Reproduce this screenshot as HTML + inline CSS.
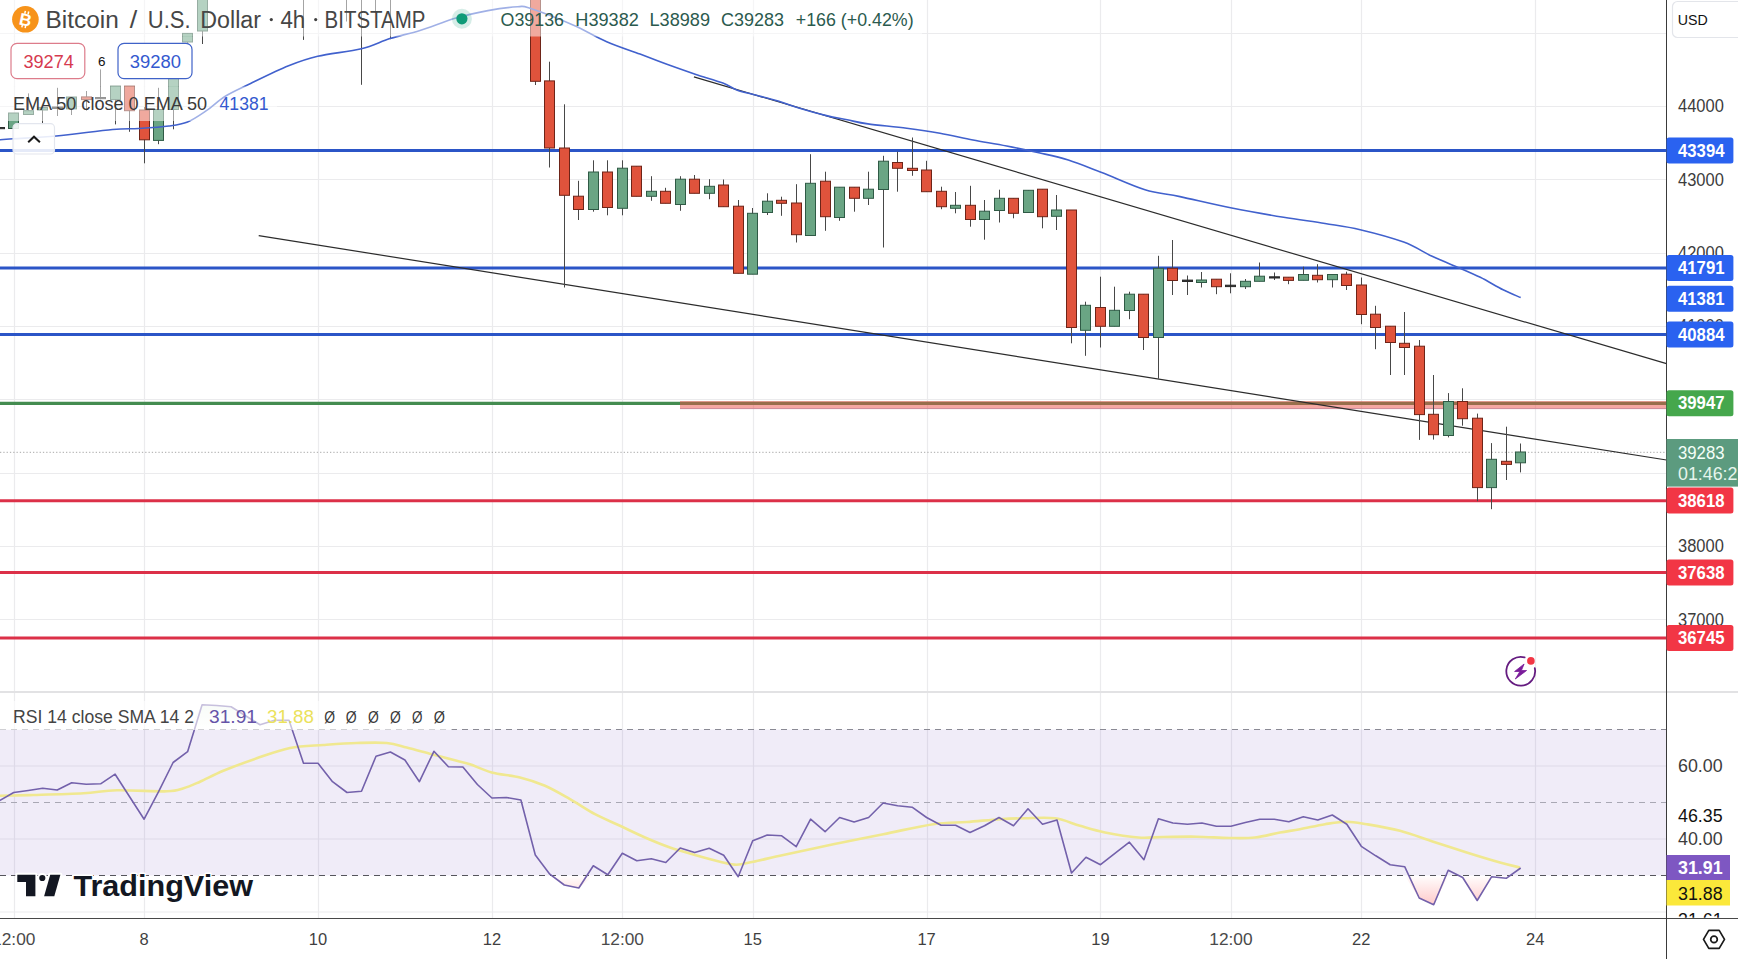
<!DOCTYPE html>
<html><head><meta charset="utf-8"><title>BTCUSD</title>
<style>html,body{margin:0;padding:0;background:#fff;}body{width:1738px;height:959px;overflow:hidden;position:relative;font-family:"Liberation Sans",sans-serif;}</style></head>
<body>
<svg width="1738" height="959" viewBox="0 0 1738 959" style="position:absolute;left:0;top:0">
<defs><clipPath id="cm"><rect x="0" y="0" width="1666.5" height="692"/></clipPath><clipPath id="cr"><rect x="0" y="692" width="1666.5" height="226.5"/></clipPath>
<linearGradient id="os" x1="0" y1="875" x2="0" y2="912" gradientUnits="userSpaceOnUse"><stop offset="0" stop-color="#ff6b6b" stop-opacity="0"/><stop offset="1" stop-color="#ff6b6b" stop-opacity="0.45"/></linearGradient>
<linearGradient id="ob" x1="0" y1="729" x2="0" y2="700" gradientUnits="userSpaceOnUse"><stop offset="0" stop-color="#4caf50" stop-opacity="0"/><stop offset="1" stop-color="#4caf50" stop-opacity="0.12"/></linearGradient>
</defs>
<rect width="1738" height="959" fill="#fff"/>
<line x1="14.5" y1="0" x2="14.5" y2="918.5" stroke="#ebebed" stroke-width="1.2"/>
<line x1="144.5" y1="0" x2="144.5" y2="918.5" stroke="#ebebed" stroke-width="1.2"/>
<line x1="318.5" y1="0" x2="318.5" y2="918.5" stroke="#ebebed" stroke-width="1.2"/>
<line x1="492.5" y1="0" x2="492.5" y2="918.5" stroke="#ebebed" stroke-width="1.2"/>
<line x1="622.5" y1="0" x2="622.5" y2="918.5" stroke="#ebebed" stroke-width="1.2"/>
<line x1="753.5" y1="0" x2="753.5" y2="918.5" stroke="#ebebed" stroke-width="1.2"/>
<line x1="927.5" y1="0" x2="927.5" y2="918.5" stroke="#ebebed" stroke-width="1.2"/>
<line x1="1100.5" y1="0" x2="1100.5" y2="918.5" stroke="#ebebed" stroke-width="1.2"/>
<line x1="1231.5" y1="0" x2="1231.5" y2="918.5" stroke="#ebebed" stroke-width="1.2"/>
<line x1="1361.5" y1="0" x2="1361.5" y2="918.5" stroke="#ebebed" stroke-width="1.2"/>
<line x1="1535.5" y1="0" x2="1535.5" y2="918.5" stroke="#ebebed" stroke-width="1.2"/>
<line x1="0" y1="619.5" x2="1666.5" y2="619.5" stroke="#ebebed" stroke-width="1.2"/>
<line x1="0" y1="546.5" x2="1666.5" y2="546.5" stroke="#ebebed" stroke-width="1.2"/>
<line x1="0" y1="473.5" x2="1666.5" y2="473.5" stroke="#ebebed" stroke-width="1.2"/>
<line x1="0" y1="399.5" x2="1666.5" y2="399.5" stroke="#ebebed" stroke-width="1.2"/>
<line x1="0" y1="326.5" x2="1666.5" y2="326.5" stroke="#ebebed" stroke-width="1.2"/>
<line x1="0" y1="253.5" x2="1666.5" y2="253.5" stroke="#ebebed" stroke-width="1.2"/>
<line x1="0" y1="179.5" x2="1666.5" y2="179.5" stroke="#ebebed" stroke-width="1.2"/>
<line x1="0" y1="106.5" x2="1666.5" y2="106.5" stroke="#ebebed" stroke-width="1.2"/>
<line x1="0" y1="33.5" x2="1666.5" y2="33.5" stroke="#ebebed" stroke-width="1.2"/>
<line x1="0" y1="766" x2="1666.5" y2="766" stroke="#ebebed" stroke-width="1.2"/>
<line x1="0" y1="839" x2="1666.5" y2="839" stroke="#ebebed" stroke-width="1.2"/>
<line x1="0" y1="912" x2="1666.5" y2="912" stroke="#ebebed" stroke-width="1.2"/>
<rect x="0" y="729.5" width="1666.5" height="146" fill="#7e57c2" fill-opacity="0.115"/>
<g clip-path="url(#cm)">
<line x1="0" y1="150.4" x2="1666.5" y2="150.4" stroke="#2b55c7" stroke-width="3"/>
<line x1="0" y1="268.0" x2="1666.5" y2="268.0" stroke="#2b55c7" stroke-width="3"/>
<line x1="0" y1="334.5" x2="1666.5" y2="334.5" stroke="#2b55c7" stroke-width="3"/>
<line x1="0" y1="500.7" x2="1666.5" y2="500.7" stroke="#dc3048" stroke-width="3"/>
<line x1="0" y1="572.5" x2="1666.5" y2="572.5" stroke="#dc3048" stroke-width="3"/>
<line x1="0" y1="638.0" x2="1666.5" y2="638.0" stroke="#dc3048" stroke-width="3"/>
<line x1="0" y1="403.4" x2="1666.5" y2="403.4" stroke="#448c50" stroke-width="3.2"/>
<rect x="680" y="401" width="986.5" height="8" fill="#eb5046" fill-opacity="0.5"/>
<line x1="680" y1="408.6" x2="1666.5" y2="408.6" stroke="#c98a9a" stroke-width="0.9"/>
<line x1="0" y1="452.3" x2="1666.5" y2="452.3" stroke="#a8a8a8" stroke-width="1" stroke-dasharray="1.3 2"/>
<line x1="693.9" y1="76.9" x2="1666.5" y2="363.7" stroke="#2c2c2c" stroke-width="1.2"/>
<line x1="258.7" y1="235.6" x2="1666.5" y2="460" stroke="#2c2c2c" stroke-width="1.2"/>
<line x1="-0.5" y1="127.5" x2="-0.5" y2="128.5" stroke="#484848" stroke-width="1"/>
<rect x="-5.5" y="127.5" width="10" height="1.2" fill="#2b2b2b" stroke="#2b2b2b" stroke-width="1"/>
<line x1="13.5" y1="113.0" x2="13.5" y2="128.5" stroke="#484848" stroke-width="1"/>
<rect x="8.5" y="113.0" width="10" height="15.5" fill="#6aa584" stroke="#2f5a45" stroke-width="1"/>
<line x1="28.5" y1="93.4" x2="28.5" y2="114.5" stroke="#484848" stroke-width="1"/>
<rect x="23.5" y="110.7" width="10" height="3.8" fill="#6aa584" stroke="#2f5a45" stroke-width="1"/>
<line x1="42.5" y1="107.6" x2="42.5" y2="124.4" stroke="#484848" stroke-width="1"/>
<rect x="37.5" y="107.6" width="10" height="2.4" fill="#6aa584" stroke="#2f5a45" stroke-width="1"/>
<line x1="57.5" y1="87.8" x2="57.5" y2="116.0" stroke="#484848" stroke-width="1"/>
<rect x="52.5" y="107.0" width="10" height="1.5" fill="#2b2b2b" stroke="#2b2b2b" stroke-width="1"/>
<line x1="71.5" y1="97.0" x2="71.5" y2="115.0" stroke="#484848" stroke-width="1"/>
<rect x="66.5" y="97.0" width="10" height="11.9" fill="#6aa584" stroke="#2f5a45" stroke-width="1"/>
<line x1="86.5" y1="91.0" x2="86.5" y2="110.7" stroke="#484848" stroke-width="1"/>
<rect x="81.5" y="96.9" width="10" height="2.7" fill="#e0533c" stroke="#6e2418" stroke-width="1"/>
<line x1="100.5" y1="69.4" x2="100.5" y2="99.4" stroke="#484848" stroke-width="1"/>
<rect x="95.5" y="97.5" width="10" height="1.2" fill="#2b2b2b" stroke="#2b2b2b" stroke-width="1"/>
<line x1="115.5" y1="86.0" x2="115.5" y2="124.4" stroke="#484848" stroke-width="1"/>
<rect x="110.5" y="86.0" width="10" height="13.6" fill="#6aa584" stroke="#2f5a45" stroke-width="1"/>
<line x1="129.5" y1="86.0" x2="129.5" y2="131.8" stroke="#484848" stroke-width="1"/>
<rect x="124.5" y="86.0" width="10" height="24.7" fill="#e0533c" stroke="#6e2418" stroke-width="1"/>
<line x1="144.5" y1="107.0" x2="144.5" y2="163.3" stroke="#484848" stroke-width="1"/>
<rect x="139.5" y="110.0" width="10" height="29.8" fill="#e0533c" stroke="#6e2418" stroke-width="1"/>
<line x1="158.5" y1="87.8" x2="158.5" y2="144.2" stroke="#484848" stroke-width="1"/>
<rect x="153.5" y="109.5" width="10" height="30.9" fill="#6aa584" stroke="#2f5a45" stroke-width="1"/>
<line x1="173.5" y1="44.0" x2="173.5" y2="129.3" stroke="#484848" stroke-width="1"/>
<rect x="168.5" y="44.0" width="10" height="65.5" fill="#6aa584" stroke="#2f5a45" stroke-width="1"/>
<line x1="187.5" y1="33.4" x2="187.5" y2="50.0" stroke="#484848" stroke-width="1"/>
<rect x="182.5" y="33.4" width="10" height="8.6" fill="#6aa584" stroke="#2f5a45" stroke-width="1"/>
<line x1="202.5" y1="-5.0" x2="202.5" y2="44.0" stroke="#484848" stroke-width="1"/>
<rect x="197.5" y="-5.0" width="10" height="36.0" fill="#6aa584" stroke="#2f5a45" stroke-width="1"/>
<line x1="303.5" y1="-5.0" x2="303.5" y2="39.9" stroke="#484848" stroke-width="1"/>
<rect x="298.5" y="-5.0" width="10" height="1.2" fill="#6aa584" stroke="#2f5a45" stroke-width="1"/>
<line x1="346.5" y1="-5.0" x2="346.5" y2="21.5" stroke="#484848" stroke-width="1"/>
<rect x="341.5" y="-5.0" width="10" height="1.2" fill="#6aa584" stroke="#2f5a45" stroke-width="1"/>
<line x1="361.5" y1="-5.0" x2="361.5" y2="84.8" stroke="#484848" stroke-width="1"/>
<rect x="356.5" y="-5.0" width="10" height="1.2" fill="#6aa584" stroke="#2f5a45" stroke-width="1"/>
<line x1="375.5" y1="-5.0" x2="375.5" y2="11.0" stroke="#484848" stroke-width="1"/>
<rect x="370.5" y="-5.0" width="10" height="1.2" fill="#6aa584" stroke="#2f5a45" stroke-width="1"/>
<line x1="390.5" y1="-5.0" x2="390.5" y2="39.2" stroke="#484848" stroke-width="1"/>
<rect x="385.5" y="-5.0" width="10" height="1.2" fill="#6aa584" stroke="#2f5a45" stroke-width="1"/>
<line x1="535.5" y1="-5.0" x2="535.5" y2="85.0" stroke="#484848" stroke-width="1"/>
<rect x="530.5" y="-5.0" width="10" height="86.3" fill="#e0533c" stroke="#6e2418" stroke-width="1"/>
<line x1="549.5" y1="61.7" x2="549.5" y2="167.5" stroke="#484848" stroke-width="1"/>
<rect x="544.5" y="80.9" width="10" height="67.1" fill="#e0533c" stroke="#6e2418" stroke-width="1"/>
<line x1="564.5" y1="104.3" x2="564.5" y2="287.5" stroke="#484848" stroke-width="1"/>
<rect x="559.5" y="148.0" width="10" height="47.3" fill="#e0533c" stroke="#6e2418" stroke-width="1"/>
<line x1="578.5" y1="180.8" x2="578.5" y2="220.0" stroke="#484848" stroke-width="1"/>
<rect x="573.5" y="196.2" width="10" height="13.3" fill="#e0533c" stroke="#6e2418" stroke-width="1"/>
<line x1="593.5" y1="160.3" x2="593.5" y2="211.7" stroke="#484848" stroke-width="1"/>
<rect x="588.5" y="172.0" width="10" height="37.5" fill="#6aa584" stroke="#2f5a45" stroke-width="1"/>
<line x1="607.5" y1="160.3" x2="607.5" y2="215.3" stroke="#484848" stroke-width="1"/>
<rect x="602.5" y="172.0" width="10" height="35.5" fill="#e0533c" stroke="#6e2418" stroke-width="1"/>
<line x1="622.5" y1="160.3" x2="622.5" y2="215.3" stroke="#484848" stroke-width="1"/>
<rect x="617.5" y="168.2" width="10" height="40.1" fill="#6aa584" stroke="#2f5a45" stroke-width="1"/>
<line x1="636.5" y1="166.2" x2="636.5" y2="196.3" stroke="#484848" stroke-width="1"/>
<rect x="631.5" y="166.2" width="10" height="30.1" fill="#e0533c" stroke="#6e2418" stroke-width="1"/>
<line x1="651.5" y1="176.2" x2="651.5" y2="200.8" stroke="#484848" stroke-width="1"/>
<rect x="646.5" y="191.3" width="10" height="5.0" fill="#6aa584" stroke="#2f5a45" stroke-width="1"/>
<line x1="665.5" y1="187.8" x2="665.5" y2="203.3" stroke="#484848" stroke-width="1"/>
<rect x="660.5" y="191.3" width="10" height="12.0" fill="#e0533c" stroke="#6e2418" stroke-width="1"/>
<line x1="680.5" y1="176.2" x2="680.5" y2="210.8" stroke="#484848" stroke-width="1"/>
<rect x="675.5" y="179.2" width="10" height="25.3" fill="#6aa584" stroke="#2f5a45" stroke-width="1"/>
<line x1="694.5" y1="175.0" x2="694.5" y2="193.3" stroke="#484848" stroke-width="1"/>
<rect x="689.5" y="179.2" width="10" height="14.1" fill="#e0533c" stroke="#6e2418" stroke-width="1"/>
<line x1="709.5" y1="179.2" x2="709.5" y2="199.2" stroke="#484848" stroke-width="1"/>
<rect x="704.5" y="186.3" width="10" height="7.0" fill="#6aa584" stroke="#2f5a45" stroke-width="1"/>
<line x1="723.5" y1="179.5" x2="723.5" y2="206.7" stroke="#484848" stroke-width="1"/>
<rect x="718.5" y="185.0" width="10" height="21.7" fill="#e0533c" stroke="#6e2418" stroke-width="1"/>
<line x1="738.5" y1="200.0" x2="738.5" y2="273.3" stroke="#484848" stroke-width="1"/>
<rect x="733.5" y="206.2" width="10" height="67.1" fill="#e0533c" stroke="#6e2418" stroke-width="1"/>
<line x1="752.5" y1="208.0" x2="752.5" y2="274.2" stroke="#484848" stroke-width="1"/>
<rect x="747.5" y="213.3" width="10" height="60.9" fill="#6aa584" stroke="#2f5a45" stroke-width="1"/>
<line x1="767.5" y1="193.3" x2="767.5" y2="215.0" stroke="#484848" stroke-width="1"/>
<rect x="762.5" y="201.2" width="10" height="11.3" fill="#6aa584" stroke="#2f5a45" stroke-width="1"/>
<line x1="781.5" y1="196.7" x2="781.5" y2="215.8" stroke="#484848" stroke-width="1"/>
<rect x="776.5" y="200.3" width="10" height="3.0" fill="#e0533c" stroke="#6e2418" stroke-width="1"/>
<line x1="796.5" y1="184.2" x2="796.5" y2="242.5" stroke="#484848" stroke-width="1"/>
<rect x="791.5" y="203.0" width="10" height="31.7" fill="#e0533c" stroke="#6e2418" stroke-width="1"/>
<line x1="810.5" y1="154.2" x2="810.5" y2="235.5" stroke="#484848" stroke-width="1"/>
<rect x="805.5" y="183.3" width="10" height="52.2" fill="#6aa584" stroke="#2f5a45" stroke-width="1"/>
<line x1="825.5" y1="171.7" x2="825.5" y2="230.8" stroke="#484848" stroke-width="1"/>
<rect x="820.5" y="181.2" width="10" height="35.5" fill="#e0533c" stroke="#6e2418" stroke-width="1"/>
<line x1="839.5" y1="187.2" x2="839.5" y2="220.8" stroke="#484848" stroke-width="1"/>
<rect x="834.5" y="187.2" width="10" height="30.3" fill="#6aa584" stroke="#2f5a45" stroke-width="1"/>
<line x1="854.5" y1="187.2" x2="854.5" y2="211.7" stroke="#484848" stroke-width="1"/>
<rect x="849.5" y="187.2" width="10" height="11.1" fill="#e0533c" stroke="#6e2418" stroke-width="1"/>
<line x1="868.5" y1="171.7" x2="868.5" y2="205.0" stroke="#484848" stroke-width="1"/>
<rect x="863.5" y="189.2" width="10" height="9.1" fill="#6aa584" stroke="#2f5a45" stroke-width="1"/>
<line x1="883.5" y1="155.8" x2="883.5" y2="247.5" stroke="#484848" stroke-width="1"/>
<rect x="878.5" y="161.2" width="10" height="28.3" fill="#6aa584" stroke="#2f5a45" stroke-width="1"/>
<line x1="897.5" y1="151.7" x2="897.5" y2="191.7" stroke="#484848" stroke-width="1"/>
<rect x="892.5" y="162.5" width="10" height="5.8" fill="#e0533c" stroke="#6e2418" stroke-width="1"/>
<line x1="912.5" y1="137.5" x2="912.5" y2="175.8" stroke="#484848" stroke-width="1"/>
<rect x="907.5" y="168.3" width="10" height="2.2" fill="#e0533c" stroke="#6e2418" stroke-width="1"/>
<line x1="926.5" y1="160.8" x2="926.5" y2="191.7" stroke="#484848" stroke-width="1"/>
<rect x="921.5" y="170.0" width="10" height="21.7" fill="#e0533c" stroke="#6e2418" stroke-width="1"/>
<line x1="941.5" y1="186.7" x2="941.5" y2="209.2" stroke="#484848" stroke-width="1"/>
<rect x="936.5" y="191.3" width="10" height="15.4" fill="#e0533c" stroke="#6e2418" stroke-width="1"/>
<line x1="955.5" y1="192.0" x2="955.5" y2="213.3" stroke="#484848" stroke-width="1"/>
<rect x="950.5" y="205.3" width="10" height="3.0" fill="#6aa584" stroke="#2f5a45" stroke-width="1"/>
<line x1="970.5" y1="185.8" x2="970.5" y2="226.7" stroke="#484848" stroke-width="1"/>
<rect x="965.5" y="205.3" width="10" height="14.2" fill="#e0533c" stroke="#6e2418" stroke-width="1"/>
<line x1="984.5" y1="200.0" x2="984.5" y2="239.7" stroke="#484848" stroke-width="1"/>
<rect x="979.5" y="211.2" width="10" height="8.3" fill="#6aa584" stroke="#2f5a45" stroke-width="1"/>
<line x1="999.5" y1="189.7" x2="999.5" y2="222.5" stroke="#484848" stroke-width="1"/>
<rect x="994.5" y="198.3" width="10" height="12.2" fill="#6aa584" stroke="#2f5a45" stroke-width="1"/>
<line x1="1013.5" y1="198.3" x2="1013.5" y2="218.3" stroke="#484848" stroke-width="1"/>
<rect x="1008.5" y="198.3" width="10" height="15.0" fill="#e0533c" stroke="#6e2418" stroke-width="1"/>
<line x1="1028.5" y1="190.3" x2="1028.5" y2="212.5" stroke="#484848" stroke-width="1"/>
<rect x="1023.5" y="190.3" width="10" height="22.2" fill="#6aa584" stroke="#2f5a45" stroke-width="1"/>
<line x1="1042.5" y1="189.2" x2="1042.5" y2="228.3" stroke="#484848" stroke-width="1"/>
<rect x="1037.5" y="189.2" width="10" height="27.5" fill="#e0533c" stroke="#6e2418" stroke-width="1"/>
<line x1="1056.5" y1="195.0" x2="1056.5" y2="230.0" stroke="#484848" stroke-width="1"/>
<rect x="1051.5" y="210.0" width="10" height="6.3" fill="#6aa584" stroke="#2f5a45" stroke-width="1"/>
<line x1="1071.5" y1="210.0" x2="1071.5" y2="343.3" stroke="#484848" stroke-width="1"/>
<rect x="1066.5" y="210.0" width="10" height="117.5" fill="#e0533c" stroke="#6e2418" stroke-width="1"/>
<line x1="1085.5" y1="301.7" x2="1085.5" y2="355.8" stroke="#484848" stroke-width="1"/>
<rect x="1080.5" y="305.3" width="10" height="25.0" fill="#6aa584" stroke="#2f5a45" stroke-width="1"/>
<line x1="1100.5" y1="276.7" x2="1100.5" y2="347.5" stroke="#484848" stroke-width="1"/>
<rect x="1095.5" y="307.5" width="10" height="18.8" fill="#e0533c" stroke="#6e2418" stroke-width="1"/>
<line x1="1114.5" y1="286.7" x2="1114.5" y2="326.3" stroke="#484848" stroke-width="1"/>
<rect x="1109.5" y="310.3" width="10" height="16.0" fill="#6aa584" stroke="#2f5a45" stroke-width="1"/>
<line x1="1129.5" y1="291.7" x2="1129.5" y2="319.2" stroke="#484848" stroke-width="1"/>
<rect x="1124.5" y="294.2" width="10" height="16.3" fill="#6aa584" stroke="#2f5a45" stroke-width="1"/>
<line x1="1143.5" y1="294.2" x2="1143.5" y2="350.0" stroke="#484848" stroke-width="1"/>
<rect x="1138.5" y="294.2" width="10" height="43.3" fill="#e0533c" stroke="#6e2418" stroke-width="1"/>
<line x1="1158.5" y1="255.8" x2="1158.5" y2="378.7" stroke="#484848" stroke-width="1"/>
<rect x="1153.5" y="268.3" width="10" height="69.2" fill="#6aa584" stroke="#2f5a45" stroke-width="1"/>
<line x1="1172.5" y1="240.0" x2="1172.5" y2="295.0" stroke="#484848" stroke-width="1"/>
<rect x="1167.5" y="268.3" width="10" height="12.2" fill="#e0533c" stroke="#6e2418" stroke-width="1"/>
<line x1="1187.5" y1="275.5" x2="1187.5" y2="295.0" stroke="#484848" stroke-width="1"/>
<rect x="1182.5" y="280.1" width="10" height="1.4" fill="#2b2b2b" stroke="#2b2b2b" stroke-width="1"/>
<line x1="1201.5" y1="272.0" x2="1201.5" y2="287.5" stroke="#484848" stroke-width="1"/>
<rect x="1196.5" y="280.0" width="10" height="2.5" fill="#6aa584" stroke="#2f5a45" stroke-width="1"/>
<line x1="1216.5" y1="279.2" x2="1216.5" y2="294.2" stroke="#484848" stroke-width="1"/>
<rect x="1211.5" y="279.2" width="10" height="7.5" fill="#e0533c" stroke="#6e2418" stroke-width="1"/>
<line x1="1230.5" y1="273.3" x2="1230.5" y2="293.3" stroke="#484848" stroke-width="1"/>
<rect x="1225.5" y="285.2" width="10" height="1.4" fill="#2b2b2b" stroke="#2b2b2b" stroke-width="1"/>
<line x1="1245.5" y1="279.0" x2="1245.5" y2="289.0" stroke="#484848" stroke-width="1"/>
<rect x="1240.5" y="281.3" width="10" height="5.4" fill="#6aa584" stroke="#2f5a45" stroke-width="1"/>
<line x1="1259.5" y1="262.5" x2="1259.5" y2="281.3" stroke="#484848" stroke-width="1"/>
<rect x="1254.5" y="276.2" width="10" height="5.1" fill="#6aa584" stroke="#2f5a45" stroke-width="1"/>
<line x1="1274.5" y1="272.5" x2="1274.5" y2="280.0" stroke="#484848" stroke-width="1"/>
<rect x="1269.5" y="276.8" width="10" height="1.2" fill="#2b2b2b" stroke="#2b2b2b" stroke-width="1"/>
<line x1="1288.5" y1="277.2" x2="1288.5" y2="284.2" stroke="#484848" stroke-width="1"/>
<rect x="1283.5" y="277.2" width="10" height="3.2" fill="#e0533c" stroke="#6e2418" stroke-width="1"/>
<line x1="1303.5" y1="266.7" x2="1303.5" y2="280.3" stroke="#484848" stroke-width="1"/>
<rect x="1298.5" y="274.5" width="10" height="5.8" fill="#6aa584" stroke="#2f5a45" stroke-width="1"/>
<line x1="1317.5" y1="264.2" x2="1317.5" y2="282.5" stroke="#484848" stroke-width="1"/>
<rect x="1312.5" y="275.3" width="10" height="4.4" fill="#e0533c" stroke="#6e2418" stroke-width="1"/>
<line x1="1332.5" y1="274.5" x2="1332.5" y2="287.5" stroke="#484848" stroke-width="1"/>
<rect x="1327.5" y="274.5" width="10" height="5.2" fill="#6aa584" stroke="#2f5a45" stroke-width="1"/>
<line x1="1346.5" y1="271.7" x2="1346.5" y2="290.0" stroke="#484848" stroke-width="1"/>
<rect x="1341.5" y="274.2" width="10" height="11.3" fill="#e0533c" stroke="#6e2418" stroke-width="1"/>
<line x1="1361.5" y1="277.5" x2="1361.5" y2="324.2" stroke="#484848" stroke-width="1"/>
<rect x="1356.5" y="285.0" width="10" height="29.5" fill="#e0533c" stroke="#6e2418" stroke-width="1"/>
<line x1="1375.5" y1="305.8" x2="1375.5" y2="349.2" stroke="#484848" stroke-width="1"/>
<rect x="1370.5" y="314.2" width="10" height="13.3" fill="#e0533c" stroke="#6e2418" stroke-width="1"/>
<line x1="1390.5" y1="326.2" x2="1390.5" y2="375.0" stroke="#484848" stroke-width="1"/>
<rect x="1385.5" y="326.2" width="10" height="16.3" fill="#e0533c" stroke="#6e2418" stroke-width="1"/>
<line x1="1404.5" y1="312.0" x2="1404.5" y2="375.0" stroke="#484848" stroke-width="1"/>
<rect x="1399.5" y="343.3" width="10" height="4.2" fill="#e0533c" stroke="#6e2418" stroke-width="1"/>
<line x1="1419.5" y1="340.0" x2="1419.5" y2="439.9" stroke="#484848" stroke-width="1"/>
<rect x="1414.5" y="346.2" width="10" height="68.4" fill="#e0533c" stroke="#6e2418" stroke-width="1"/>
<line x1="1433.5" y1="375.0" x2="1433.5" y2="439.6" stroke="#484848" stroke-width="1"/>
<rect x="1428.5" y="414.3" width="10" height="20.4" fill="#e0533c" stroke="#6e2418" stroke-width="1"/>
<line x1="1448.5" y1="393.1" x2="1448.5" y2="437.4" stroke="#484848" stroke-width="1"/>
<rect x="1443.5" y="401.5" width="10" height="34.0" fill="#6aa584" stroke="#2f5a45" stroke-width="1"/>
<line x1="1462.5" y1="388.3" x2="1462.5" y2="425.7" stroke="#484848" stroke-width="1"/>
<rect x="1457.5" y="401.5" width="10" height="17.2" fill="#e0533c" stroke="#6e2418" stroke-width="1"/>
<line x1="1477.5" y1="413.6" x2="1477.5" y2="501.2" stroke="#484848" stroke-width="1"/>
<rect x="1472.5" y="418.2" width="10" height="69.4" fill="#e0533c" stroke="#6e2418" stroke-width="1"/>
<line x1="1491.5" y1="443.1" x2="1491.5" y2="509.2" stroke="#484848" stroke-width="1"/>
<rect x="1486.5" y="459.3" width="10" height="28.3" fill="#6aa584" stroke="#2f5a45" stroke-width="1"/>
<line x1="1506.5" y1="426.7" x2="1506.5" y2="480.0" stroke="#484848" stroke-width="1"/>
<rect x="1501.5" y="461.3" width="10" height="3.1" fill="#e0533c" stroke="#6e2418" stroke-width="1"/>
<line x1="1520.5" y1="443.5" x2="1520.5" y2="472.4" stroke="#484848" stroke-width="1"/>
<rect x="1515.5" y="452.0" width="10" height="10.8" fill="#6aa584" stroke="#2f5a45" stroke-width="1"/>
<path fill="none" stroke="#4161cd" stroke-width="1.6" stroke-linejoin="round" d="M-2.0,140.0 C0.5,139.8 3.3,139.5 13.0,138.8 C22.7,138.1 39.7,137.6 56.3,136.0 C72.9,134.4 98.8,130.8 112.6,129.5 C126.3,128.2 129.4,129.1 138.8,128.5 C148.2,127.9 160.8,127.1 168.9,126.0 C177.0,124.9 181.3,124.5 187.6,122.0 C193.8,119.5 200.1,115.0 206.4,110.7 C212.7,106.4 217.9,100.7 225.3,96.2 C232.7,91.7 240.0,88.6 250.6,83.5 C261.1,78.4 277.4,70.3 288.6,65.8 C299.8,61.3 305.6,59.1 317.7,56.3 C329.8,53.4 349.4,51.7 361.4,48.7 C373.4,45.8 380.1,41.7 389.9,38.6 C399.7,35.5 409.0,33.8 420.0,30.4 C431.0,27.0 444.7,21.3 456.0,18.0 C467.3,14.7 477.6,12.5 487.9,10.6 C498.2,8.7 510.7,7.2 517.7,6.8 C524.7,6.4 520.8,5.3 530.0,8.3 C539.2,11.3 560.2,19.4 573.0,25.0 C585.8,30.6 595.5,36.9 606.7,41.7 C617.9,46.6 629.9,50.3 640.0,54.1 C650.1,57.9 658.4,61.1 667.6,64.5 C676.8,67.8 686.0,71.1 695.2,74.2 C704.4,77.3 716.0,80.5 722.9,83.1 C729.8,85.7 731.6,88.1 736.7,90.0 C741.8,91.9 746.4,92.7 753.3,94.5 C760.2,96.3 770.5,98.8 778.1,101.1 C785.7,103.3 790.7,105.6 798.8,108.0 C806.9,110.4 818.4,113.6 826.5,115.6 C834.6,117.6 840.3,118.4 847.2,119.8 C854.1,121.2 858.0,122.5 867.9,123.9 C877.8,125.3 894.7,126.7 906.7,128.3 C918.7,129.9 929.0,131.4 940.0,133.3 C951.0,135.2 961.9,137.9 973.0,140.0 C984.1,142.1 995.5,143.8 1006.7,146.0 C1017.9,148.2 1029.7,150.7 1040.0,153.0 C1050.3,155.3 1058.0,156.8 1068.3,160.0 C1078.6,163.2 1088.9,167.6 1101.7,172.5 C1114.5,177.4 1132.0,185.7 1145.0,189.7 C1158.0,193.7 1165.5,193.5 1180.0,196.6 C1194.5,199.7 1214.5,204.6 1231.8,208.0 C1249.1,211.4 1268.1,214.7 1283.6,217.3 C1299.1,219.9 1312.2,221.4 1325.0,223.5 C1337.8,225.6 1347.1,226.6 1360.2,229.7 C1373.3,232.8 1391.6,237.6 1403.7,242.1 C1415.8,246.6 1423.4,252.3 1432.7,256.6 C1442.0,260.9 1451.7,264.6 1459.6,268.0 C1467.5,271.4 1473.0,273.7 1480.3,277.3 C1487.5,280.9 1496.4,286.4 1503.1,289.8 C1509.8,293.2 1517.8,296.3 1520.7,297.6"/>
</g>
<g clip-path="url(#cr)">
<path d="M-0.8,875.5 L-0.8,875.5 L13.7,875.5 L28.2,875.5 L42.7,875.5 L57.2,875.5 L71.7,875.5 L86.2,875.5 L100.6,875.5 L115.1,875.5 L129.6,875.5 L144.1,875.5 L158.6,875.5 L173.1,875.5 L187.6,875.5 L202.1,875.5 L216.6,875.5 L231.1,875.5 L245.5,875.5 L260.0,875.5 L274.5,875.5 L289.0,875.5 L303.5,875.5 L318.0,875.5 L332.5,875.5 L347.0,875.5 L361.5,875.5 L376.0,875.5 L390.4,875.5 L404.9,875.5 L419.4,875.5 L433.9,875.5 L448.4,875.5 L462.9,875.5 L477.4,875.5 L491.9,875.5 L506.4,875.5 L520.9,875.5 L535.3,875.5 L549.8,875.5 L564.3,885.0 L578.8,888.0 L593.3,875.5 L607.8,875.5 L622.3,875.5 L636.8,875.5 L651.3,875.5 L665.8,875.5 L680.2,875.5 L694.7,875.5 L709.2,875.5 L723.7,875.5 L738.2,876.7 L752.7,875.5 L767.2,875.5 L781.7,875.5 L796.2,875.5 L810.6,875.5 L825.1,875.5 L839.6,875.5 L854.1,875.5 L868.6,875.5 L883.1,875.5 L897.6,875.5 L912.1,875.5 L926.6,875.5 L941.1,875.5 L955.6,875.5 L970.0,875.5 L984.5,875.5 L999.0,875.5 L1013.5,875.5 L1028.0,875.5 L1042.5,875.5 L1057.0,875.5 L1071.5,875.5 L1086.0,875.5 L1100.5,875.5 L1114.9,875.5 L1129.4,875.5 L1143.9,875.5 L1158.4,875.5 L1172.9,875.5 L1187.4,875.5 L1201.9,875.5 L1216.4,875.5 L1230.9,875.5 L1245.3,875.5 L1259.8,875.5 L1274.3,875.5 L1288.8,875.5 L1303.3,875.5 L1317.8,875.5 L1332.3,875.5 L1346.8,875.5 L1361.3,875.5 L1375.8,875.5 L1390.2,875.5 L1404.7,875.5 L1419.2,898.0 L1433.7,904.7 L1448.2,875.5 L1462.7,877.5 L1477.2,900.5 L1491.7,876.7 L1506.2,878.3 L1520.7,875.5 L1520.7,875.5 Z" fill="url(#os)"/>
<path d="M-0.8,729.5 L-0.8,729.5 L13.7,729.5 L28.2,729.5 L42.7,729.5 L57.2,729.5 L71.7,729.5 L86.2,729.5 L100.6,729.5 L115.1,729.5 L129.6,729.5 L144.1,729.5 L158.6,729.5 L173.1,729.5 L187.6,729.5 L202.1,704.7 L216.6,705.5 L231.1,706.7 L245.5,715.8 L260.0,724.7 L274.5,720.3 L289.0,720.3 L303.5,729.5 L318.0,729.5 L332.5,729.5 L347.0,729.5 L361.5,729.5 L376.0,729.5 L390.4,729.5 L404.9,729.5 L419.4,729.5 L433.9,729.5 L448.4,729.5 L462.9,729.5 L477.4,729.5 L491.9,729.5 L506.4,729.5 L520.9,729.5 L535.3,729.5 L549.8,729.5 L564.3,729.5 L578.8,729.5 L593.3,729.5 L607.8,729.5 L622.3,729.5 L636.8,729.5 L651.3,729.5 L665.8,729.5 L680.2,729.5 L694.7,729.5 L709.2,729.5 L723.7,729.5 L738.2,729.5 L752.7,729.5 L767.2,729.5 L781.7,729.5 L796.2,729.5 L810.6,729.5 L825.1,729.5 L839.6,729.5 L854.1,729.5 L868.6,729.5 L883.1,729.5 L897.6,729.5 L912.1,729.5 L926.6,729.5 L941.1,729.5 L955.6,729.5 L970.0,729.5 L984.5,729.5 L999.0,729.5 L1013.5,729.5 L1028.0,729.5 L1042.5,729.5 L1057.0,729.5 L1071.5,729.5 L1086.0,729.5 L1100.5,729.5 L1114.9,729.5 L1129.4,729.5 L1143.9,729.5 L1158.4,729.5 L1172.9,729.5 L1187.4,729.5 L1201.9,729.5 L1216.4,729.5 L1230.9,729.5 L1245.3,729.5 L1259.8,729.5 L1274.3,729.5 L1288.8,729.5 L1303.3,729.5 L1317.8,729.5 L1332.3,729.5 L1346.8,729.5 L1361.3,729.5 L1375.8,729.5 L1390.2,729.5 L1404.7,729.5 L1419.2,729.5 L1433.7,729.5 L1448.2,729.5 L1462.7,729.5 L1477.2,729.5 L1491.7,729.5 L1506.2,729.5 L1520.7,729.5 L1520.7,729.5 Z" fill="url(#ob)"/>
<line x1="0" y1="729.5" x2="1666.5" y2="729.5" stroke="#8a8a94" stroke-width="1.2" stroke-dasharray="6 5"/>
<line x1="0" y1="802.5" x2="1666.5" y2="802.5" stroke="#a9a8b4" stroke-width="1.2" stroke-dasharray="6 5"/>
<line x1="0" y1="875.5" x2="1666.5" y2="875.5" stroke="#55555c" stroke-width="1.2" stroke-dasharray="6 5"/>
<path fill="none" stroke="#f0e890" stroke-width="2.6" stroke-linejoin="round" d="M-2.0,795.8 C3.9,795.7 19.1,795.4 33.4,795.0 C47.6,794.6 69.6,794.1 83.5,793.3 C97.4,792.5 103.1,790.6 117.0,790.3 C130.9,790.0 155.9,791.6 167.0,791.3 C178.1,791.0 178.1,789.9 183.6,788.3 C189.1,786.7 193.4,784.6 200.0,781.7 C206.6,778.8 213.9,774.7 223.3,770.8 C232.8,766.9 245.6,762.1 256.7,758.3 C267.8,754.5 278.9,750.2 290.0,748.0 C301.1,745.8 312.2,745.8 323.3,745.0 C334.4,744.2 346.1,743.3 356.7,743.0 C367.3,742.7 378.4,742.2 386.7,743.0 C395.0,743.8 399.2,745.6 406.7,747.5 C414.2,749.4 423.4,752.0 431.7,754.2 C440.0,756.4 450.3,759.1 456.7,760.8 C463.1,762.5 464.2,762.2 470.0,764.2 C475.8,766.2 483.4,770.3 491.7,772.5 C500.0,774.7 511.1,775.3 520.0,777.5 C528.9,779.7 536.7,782.2 545.0,785.8 C553.3,789.4 561.7,794.5 570.0,799.2 C578.3,803.9 586.7,809.8 595.0,814.2 C603.3,818.6 611.7,821.9 620.0,825.8 C628.3,829.7 636.7,833.9 645.0,837.5 C653.3,841.1 661.7,844.6 670.0,847.5 C678.3,850.4 686.7,852.6 695.0,855.0 C703.3,857.4 713.0,860.1 720.0,861.7 C727.0,863.3 731.2,864.7 736.7,864.7 C742.2,864.7 745.5,863.3 753.3,861.7 C761.1,860.1 770.0,857.9 783.3,855.0 C796.6,852.1 816.6,847.7 833.3,844.2 C850.0,840.7 866.6,837.5 883.3,834.2 C900.0,830.9 919.4,826.2 933.3,824.2 C947.2,822.2 955.6,822.8 966.7,822.0 C977.8,821.2 990.3,819.8 1000.0,819.2 C1009.7,818.6 1015.8,818.4 1025.0,818.3 C1034.2,818.1 1045.8,817.0 1055.0,818.3 C1064.2,819.5 1071.7,823.4 1080.0,825.8 C1088.3,828.2 1095.3,830.5 1105.0,832.5 C1114.7,834.5 1128.6,836.8 1138.3,837.5 C1148.0,838.2 1153.6,837.1 1163.3,837.0 C1173.0,836.9 1185.6,836.5 1196.7,836.7 C1207.8,836.9 1220.3,837.9 1230.0,838.0 C1239.7,838.1 1246.7,838.4 1255.0,837.5 C1263.3,836.6 1272.5,833.9 1280.0,832.5 C1287.5,831.1 1292.5,830.6 1300.0,829.2 C1307.5,827.8 1317.2,825.5 1325.0,824.2 C1332.8,823.0 1339.8,821.7 1346.7,821.7 C1353.7,821.7 1357.8,822.7 1366.7,824.2 C1375.6,825.7 1388.9,827.9 1400.0,830.8 C1411.1,833.7 1422.2,838.1 1433.3,841.7 C1444.4,845.3 1455.6,849.0 1466.7,852.5 C1477.8,856.0 1491.1,860.0 1500.0,862.5 C1508.9,865.0 1516.7,866.7 1520.0,867.5"/>
<polyline fill="none" stroke="#7361ab" stroke-width="1.6" stroke-linejoin="round" points="-0.8,800.8 13.7,792.5 28.2,790.5 42.7,788.3 57.2,790.0 71.7,782.8 86.2,784.2 100.6,783.8 115.1,774.2 129.6,796.7 144.1,819.2 158.6,791.7 173.1,762.5 187.6,751.7 202.1,704.7 216.6,705.5 231.1,706.7 245.5,715.8 260.0,724.7 274.5,720.3 289.0,720.3 303.5,763.3 318.0,763.3 332.5,781.7 347.0,792.5 361.5,791.3 376.0,756.3 390.4,752.0 404.9,760.0 419.4,781.7 433.9,751.3 448.4,766.7 462.9,767.0 477.4,784.5 491.9,798.0 506.4,797.5 520.9,800.0 535.3,855.0 549.8,874.2 564.3,885.0 578.8,888.0 593.3,865.8 607.8,874.7 622.3,853.3 636.8,860.8 651.3,858.7 665.8,862.5 680.2,848.0 694.7,852.5 709.2,848.3 723.7,855.3 738.2,876.7 752.7,840.8 767.2,835.0 781.7,835.8 796.2,846.7 810.6,819.2 825.1,831.7 839.6,817.5 854.1,822.0 868.6,817.5 883.1,803.0 897.6,805.8 912.1,807.2 926.6,817.5 941.1,825.3 955.6,825.3 970.0,832.5 984.5,825.8 999.0,817.5 1013.5,825.8 1028.0,808.8 1042.5,824.2 1057.0,820.0 1071.5,873.0 1086.0,857.2 1100.5,864.7 1114.9,853.3 1129.4,842.2 1143.9,859.7 1158.4,818.7 1172.9,823.0 1187.4,824.2 1201.9,823.0 1216.4,826.2 1230.9,826.3 1245.3,822.5 1259.8,819.2 1274.3,819.2 1288.8,821.7 1303.3,816.7 1317.8,820.0 1332.3,815.0 1346.8,824.2 1361.3,846.3 1375.8,855.8 1390.2,864.7 1404.7,866.7 1419.2,898.0 1433.7,904.7 1448.2,870.3 1462.7,877.5 1477.2,900.5 1491.7,876.7 1506.2,878.3 1520.7,868.0"/>
</g>
<rect x="0" y="691" width="1738" height="2" fill="#e2e2e4"/>
<line x1="0" y1="918.5" x2="1738" y2="918.5" stroke="#484848" stroke-width="1"/>
<line x1="1666.5" y1="0" x2="1666.5" y2="959" stroke="#3a3a3a" stroke-width="1"/>
<text x="1678.0" y="112.3" font-size="17.5" font-family="Liberation Sans, sans-serif" fill="#3c3c3c" font-weight="normal" textLength="45.8" lengthAdjust="spacingAndGlyphs" >44000</text>
<text x="1678.0" y="185.6" font-size="17.5" font-family="Liberation Sans, sans-serif" fill="#3c3c3c" font-weight="normal" textLength="45.8" lengthAdjust="spacingAndGlyphs" >43000</text>
<text x="1678.0" y="259.0" font-size="17.5" font-family="Liberation Sans, sans-serif" fill="#3c3c3c" font-weight="normal" textLength="45.8" lengthAdjust="spacingAndGlyphs" >42000</text>
<text x="1678.0" y="332.3" font-size="17.5" font-family="Liberation Sans, sans-serif" fill="#3c3c3c" font-weight="normal" textLength="45.8" lengthAdjust="spacingAndGlyphs" >41000</text>
<text x="1678.0" y="405.6" font-size="17.5" font-family="Liberation Sans, sans-serif" fill="#3c3c3c" font-weight="normal" textLength="45.8" lengthAdjust="spacingAndGlyphs" >40000</text>
<text x="1678.0" y="479.0" font-size="17.5" font-family="Liberation Sans, sans-serif" fill="#3c3c3c" font-weight="normal" textLength="45.8" lengthAdjust="spacingAndGlyphs" >39000</text>
<text x="1678.0" y="552.3" font-size="17.5" font-family="Liberation Sans, sans-serif" fill="#3c3c3c" font-weight="normal" textLength="45.8" lengthAdjust="spacingAndGlyphs" >38000</text>
<text x="1678.0" y="625.6" font-size="17.5" font-family="Liberation Sans, sans-serif" fill="#3c3c3c" font-weight="normal" textLength="45.8" lengthAdjust="spacingAndGlyphs" >37000</text>
<rect x="1672.5" y="1.5" width="80" height="36" rx="5" fill="#fff" stroke="#e3e5ea" stroke-width="1.2"/>
<text x="1677.7" y="25.0" font-size="15" font-family="Liberation Sans, sans-serif" fill="#111" font-weight="normal" textLength="30.0" lengthAdjust="spacingAndGlyphs" >USD</text>
<rect x="1666.5" y="137.4" width="66.9" height="26" rx="2.5" fill="#2a62f0"/>
<text x="1678.0" y="156.6" font-size="17.5" font-family="Liberation Sans, sans-serif" fill="#fff" font-weight="bold" textLength="46.5" lengthAdjust="spacingAndGlyphs" >43394</text>
<rect x="1666.5" y="255.0" width="66.9" height="26" rx="2.5" fill="#2a62f0"/>
<text x="1678.0" y="274.2" font-size="17.5" font-family="Liberation Sans, sans-serif" fill="#fff" font-weight="bold" textLength="46.5" lengthAdjust="spacingAndGlyphs" >41791</text>
<rect x="1666.5" y="285.7" width="66.9" height="26" rx="2.5" fill="#2a62f0"/>
<text x="1678.0" y="304.9" font-size="17.5" font-family="Liberation Sans, sans-serif" fill="#fff" font-weight="bold" textLength="46.5" lengthAdjust="spacingAndGlyphs" >41381</text>
<rect x="1666.5" y="321.5" width="66.9" height="26" rx="2.5" fill="#2a62f0"/>
<text x="1678.0" y="340.7" font-size="17.5" font-family="Liberation Sans, sans-serif" fill="#fff" font-weight="bold" textLength="46.5" lengthAdjust="spacingAndGlyphs" >40884</text>
<rect x="1666.5" y="390.2" width="66.9" height="26" rx="2.5" fill="#45a74c"/>
<text x="1678.0" y="409.4" font-size="17.5" font-family="Liberation Sans, sans-serif" fill="#fff" font-weight="bold" textLength="46.5" lengthAdjust="spacingAndGlyphs" >39947</text>
<rect x="1666.5" y="439" width="80" height="47.6" fill="#5c9b7f"/>
<text x="1678.0" y="459.3" font-size="17.5" font-family="Liberation Sans, sans-serif" fill="#f4fff8" font-weight="normal" textLength="46.5" lengthAdjust="spacingAndGlyphs" >39283</text>
<text x="1678.0" y="479.6" font-size="17.5" font-family="Liberation Sans, sans-serif" fill="#e6f5ec" font-weight="normal" textLength="59.5" lengthAdjust="spacingAndGlyphs" >01:46:2</text>
<rect x="1666.5" y="487.4" width="66.9" height="26" rx="2.5" fill="#f23645"/>
<text x="1678.0" y="506.6" font-size="17.5" font-family="Liberation Sans, sans-serif" fill="#fff" font-weight="bold" textLength="46.5" lengthAdjust="spacingAndGlyphs" >38618</text>
<rect x="1666.5" y="559.5" width="66.9" height="26" rx="2.5" fill="#f23645"/>
<text x="1678.0" y="578.7" font-size="17.5" font-family="Liberation Sans, sans-serif" fill="#fff" font-weight="bold" textLength="46.5" lengthAdjust="spacingAndGlyphs" >37638</text>
<rect x="1666.5" y="625.0" width="66.9" height="26" rx="2.5" fill="#f23645"/>
<text x="1678.0" y="644.2" font-size="17.5" font-family="Liberation Sans, sans-serif" fill="#fff" font-weight="bold" textLength="46.5" lengthAdjust="spacingAndGlyphs" >36745</text>
<rect x="1667.5" y="920" width="80" height="39" fill="#fff"/>
<text x="1678.0" y="772.3" font-size="17.5" font-family="Liberation Sans, sans-serif" fill="#3c3c3c" font-weight="normal" textLength="44.6" lengthAdjust="spacingAndGlyphs" >60.00</text>
<text x="1678.0" y="822.0" font-size="17.5" font-family="Liberation Sans, sans-serif" fill="#111" font-weight="normal" textLength="44.6" lengthAdjust="spacingAndGlyphs" >46.35</text>
<text x="1678.0" y="845.3" font-size="17.5" font-family="Liberation Sans, sans-serif" fill="#3c3c3c" font-weight="normal" textLength="44.6" lengthAdjust="spacingAndGlyphs" >40.00</text>
<clipPath id="cb"><rect x="1667" y="700" width="71" height="217.8"/></clipPath>
<g clip-path="url(#cb)">
<text x="1678.0" y="925.5" font-size="17.5" font-family="Liberation Sans, sans-serif" fill="#111" font-weight="normal" textLength="44.6" lengthAdjust="spacingAndGlyphs" >31.61</text>
</g>
<rect x="1666.5" y="855" width="63.5" height="25" fill="#7e57c2"/>
<text x="1678.0" y="874.4" font-size="17.5" font-family="Liberation Sans, sans-serif" fill="#fff" font-weight="bold" textLength="44.6" lengthAdjust="spacingAndGlyphs" >31.91</text>
<rect x="1666.5" y="880" width="63.5" height="25.5" fill="#fbe83a"/>
<text x="1678.0" y="899.6" font-size="17.5" font-family="Liberation Sans, sans-serif" fill="#111" font-weight="normal" textLength="44.6" lengthAdjust="spacingAndGlyphs" >31.88</text>
<text x="-7.9" y="945.3" font-size="16.5" font-family="Liberation Sans, sans-serif" fill="#4a4a4a" textLength="43.3" lengthAdjust="spacingAndGlyphs">12:00</text>
<text x="144.1" y="945.3" font-size="16.5" font-family="Liberation Sans, sans-serif" fill="#3f3f3f" text-anchor="middle">8</text>
<text x="318.0" y="945.3" font-size="16.5" font-family="Liberation Sans, sans-serif" fill="#3f3f3f" text-anchor="middle">10</text>
<text x="491.9" y="945.3" font-size="16.5" font-family="Liberation Sans, sans-serif" fill="#3f3f3f" text-anchor="middle">12</text>
<text x="600.7" y="945.3" font-size="16.5" font-family="Liberation Sans, sans-serif" fill="#4a4a4a" textLength="43.3" lengthAdjust="spacingAndGlyphs">12:00</text>
<text x="752.7" y="945.3" font-size="16.5" font-family="Liberation Sans, sans-serif" fill="#3f3f3f" text-anchor="middle">15</text>
<text x="926.6" y="945.3" font-size="16.5" font-family="Liberation Sans, sans-serif" fill="#3f3f3f" text-anchor="middle">17</text>
<text x="1100.5" y="945.3" font-size="16.5" font-family="Liberation Sans, sans-serif" fill="#3f3f3f" text-anchor="middle">19</text>
<text x="1209.3" y="945.3" font-size="16.5" font-family="Liberation Sans, sans-serif" fill="#4a4a4a" textLength="43.3" lengthAdjust="spacingAndGlyphs">12:00</text>
<text x="1361.3" y="945.3" font-size="16.5" font-family="Liberation Sans, sans-serif" fill="#3f3f3f" text-anchor="middle">22</text>
<text x="1535.2" y="945.3" font-size="16.5" font-family="Liberation Sans, sans-serif" fill="#3f3f3f" text-anchor="middle">24</text>
<path d="M1703.5,939.4 L1708.8,930.4 L1719.2,930.4 L1724.5,939.4 L1719.2,948.4 L1708.8,948.4 Z" fill="none" stroke="#1a1a1a" stroke-width="1.7" stroke-linejoin="round"/>
<circle cx="1714" cy="939.4" r="3.3" fill="none" stroke="#1a1a1a" stroke-width="1.7"/>
<path d="M1524.6,657.4 A14.4,14.4 0 1 0 1534.8,668.2" fill="none" stroke="#651c80" stroke-width="1.8" stroke-linecap="round"/>
<path d="M1524.1,664 L1514.6,671.5 L1519.9,671.5 L1515.3,679 L1526.6,670.5 L1521.4,670.5 Z" fill="#7a1c9a" stroke="#7a1c9a" stroke-width="0.8" stroke-linejoin="round"/>
<circle cx="1530.9" cy="660.9" r="3.8" fill="#f23645"/>
<rect x="0" y="0" width="922" height="36.5" fill="#fff" fill-opacity="0.5"/>
<rect x="0" y="36.5" width="200" height="50" fill="#fff" fill-opacity="0.5"/>
<rect x="0" y="86.5" width="277" height="34.5" fill="#fff" fill-opacity="0.5"/>
<rect x="0" y="701" width="452" height="29" fill="#fff" fill-opacity="0.6"/>
<circle cx="25.4" cy="19.3" r="13.3" fill="#f7931a"/>
<text x="25.6" y="25.6" font-size="17" font-family="Liberation Sans, sans-serif" fill="#fff" font-weight="bold" text-anchor="middle" transform="rotate(12 25.4 19.3)">B</text>
<g transform="rotate(12 25.4 19.3)" stroke="#fff" stroke-width="1.5"><line x1="23.6" y1="11" x2="23.6" y2="14"/><line x1="27" y1="11" x2="27" y2="14"/><line x1="23.6" y1="25" x2="23.6" y2="28"/><line x1="27" y1="25" x2="27" y2="28"/></g>
<text x="45.6" y="27.6" font-size="23" font-family="Liberation Sans, sans-serif" fill="#464646" font-weight="normal" textLength="73.2" lengthAdjust="spacingAndGlyphs" >Bitcoin</text>
<text x="129.8" y="27.6" font-size="23" font-family="Liberation Sans, sans-serif" fill="#464646" font-weight="normal" textLength="7.5" lengthAdjust="spacingAndGlyphs" >/</text>
<text x="147.8" y="27.6" font-size="23" font-family="Liberation Sans, sans-serif" fill="#464646" font-weight="normal" textLength="42.8" lengthAdjust="spacingAndGlyphs" >U.S.</text>
<text x="200.3" y="27.6" font-size="23" font-family="Liberation Sans, sans-serif" fill="#464646" font-weight="normal" textLength="60.7" lengthAdjust="spacingAndGlyphs" >Dollar</text>
<text x="280.4" y="27.6" font-size="23" font-family="Liberation Sans, sans-serif" fill="#464646" font-weight="normal" textLength="24.8" lengthAdjust="spacingAndGlyphs" >4h</text>
<text x="324.6" y="27.6" font-size="23" font-family="Liberation Sans, sans-serif" fill="#464646" font-weight="normal" textLength="100.8" lengthAdjust="spacingAndGlyphs" >BITSTAMP</text>
<circle cx="271.3" cy="19.6" r="1.6" fill="#404040"/>
<circle cx="315.7" cy="19.6" r="1.6" fill="#404040"/>
<circle cx="461.9" cy="18.8" r="10" fill="#1a9b7b" fill-opacity="0.18"/>
<circle cx="461.9" cy="18.8" r="5.6" fill="#0f9b78"/>
<text x="500.6" y="26.0" font-size="18.5" font-family="Liberation Sans, sans-serif" fill="#2b5a4e" font-weight="normal" textLength="63.4" lengthAdjust="spacingAndGlyphs" >O39136</text>
<text x="575.3" y="26.0" font-size="18.5" font-family="Liberation Sans, sans-serif" fill="#2b5a4e" font-weight="normal" textLength="63.5" lengthAdjust="spacingAndGlyphs" >H39382</text>
<text x="649.5" y="26.0" font-size="18.5" font-family="Liberation Sans, sans-serif" fill="#2b5a4e" font-weight="normal" textLength="60.5" lengthAdjust="spacingAndGlyphs" >L38989</text>
<text x="721.0" y="26.0" font-size="18.5" font-family="Liberation Sans, sans-serif" fill="#2b5a4e" font-weight="normal" textLength="63.0" lengthAdjust="spacingAndGlyphs" >C39283</text>
<text x="795.8" y="26.0" font-size="18.5" font-family="Liberation Sans, sans-serif" fill="#2b5a4e" font-weight="normal" textLength="117.8" lengthAdjust="spacingAndGlyphs" >+166 (+0.42%)</text>
<rect x="11" y="43.4" width="73.8" height="35.3" rx="6" fill="#fff" stroke="#dd7c8b" stroke-width="1.2"/>
<text x="23.5" y="67.7" font-size="17.5" font-family="Liberation Sans, sans-serif" fill="#d63a50" font-weight="normal" textLength="50.3" lengthAdjust="spacingAndGlyphs" >39274</text>
<text x="98.0" y="66.3" font-size="13.5" font-family="Liberation Sans, sans-serif" fill="#111" font-weight="normal" textLength="7.5" lengthAdjust="spacingAndGlyphs" >6</text>
<rect x="118" y="43.4" width="74" height="35.3" rx="6" fill="#fff" stroke="#3f62c8" stroke-width="1.2"/>
<text x="129.8" y="67.7" font-size="17.5" font-family="Liberation Sans, sans-serif" fill="#3459cf" font-weight="normal" textLength="51.2" lengthAdjust="spacingAndGlyphs" >39280</text>
<text x="13.0" y="109.7" font-size="18" font-family="Liberation Sans, sans-serif" fill="#3a3a3a" font-weight="normal" textLength="194.0" lengthAdjust="spacingAndGlyphs" >EMA 50 close 0 EMA 50</text>
<text x="219.6" y="109.7" font-size="18" font-family="Liberation Sans, sans-serif" fill="#3459cf" font-weight="normal" textLength="48.9" lengthAdjust="spacingAndGlyphs" >41381</text>
<rect x="13" y="123.7" width="41.5" height="30.3" rx="4" fill="#fff" fill-opacity="0.88" stroke="#e3e6ee" stroke-width="1.2"/>
<path d="M28.2,142.3 L34,136.7 L39.9,142.3" fill="none" stroke="#1a1a1a" stroke-width="2"/>
<text x="13.0" y="722.5" font-size="18" font-family="Liberation Sans, sans-serif" fill="#444" font-weight="normal" textLength="181.0" lengthAdjust="spacingAndGlyphs" >RSI 14 close SMA 14 2</text>
<text x="209.0" y="722.5" font-size="18" font-family="Liberation Sans, sans-serif" fill="#6654a8" font-weight="normal" textLength="48.0" lengthAdjust="spacingAndGlyphs" >31.91</text>
<text x="267.0" y="722.5" font-size="18" font-family="Liberation Sans, sans-serif" fill="#ebe25c" font-weight="normal" textLength="47.0" lengthAdjust="spacingAndGlyphs" >31.88</text>
<text x="324.2" y="722.5" font-size="17" font-family="Liberation Sans, sans-serif" fill="#3a3a3a" font-weight="normal" textLength="10.8" lengthAdjust="spacingAndGlyphs" >Ø</text>
<text x="345.8" y="722.5" font-size="17" font-family="Liberation Sans, sans-serif" fill="#3a3a3a" font-weight="normal" textLength="10.9" lengthAdjust="spacingAndGlyphs" >Ø</text>
<text x="368.0" y="722.5" font-size="17" font-family="Liberation Sans, sans-serif" fill="#3a3a3a" font-weight="normal" textLength="10.8" lengthAdjust="spacingAndGlyphs" >Ø</text>
<text x="390.0" y="722.5" font-size="17" font-family="Liberation Sans, sans-serif" fill="#3a3a3a" font-weight="normal" textLength="10.8" lengthAdjust="spacingAndGlyphs" >Ø</text>
<text x="412.0" y="722.5" font-size="17" font-family="Liberation Sans, sans-serif" fill="#3a3a3a" font-weight="normal" textLength="10.5" lengthAdjust="spacingAndGlyphs" >Ø</text>
<text x="433.8" y="722.5" font-size="17" font-family="Liberation Sans, sans-serif" fill="#3a3a3a" font-weight="normal" textLength="11.2" lengthAdjust="spacingAndGlyphs" >Ø</text>
<g fill="#131722" stroke="#fff" stroke-width="4" paint-order="stroke" stroke-linejoin="round" transform="translate(0,-0.4)">
<path d="M17.3,875.2 H35.4 V896.6 H26 V882.5 H17.3 Z"/>
<circle cx="42.3" cy="878.4" r="3.1"/>
<path d="M50.2,875.2 H60.4 L54.3,896.6 H44.1 Z"/>
</g>
<text x="73.4" y="896.2" font-size="30" font-family="Liberation Sans, sans-serif" fill="#131722" font-weight="bold" textLength="179.6" lengthAdjust="spacingAndGlyphs" stroke="#fff" stroke-width="3" paint-order="stroke" stroke-linejoin="round">TradingView</text>
</svg>
</body></html>
